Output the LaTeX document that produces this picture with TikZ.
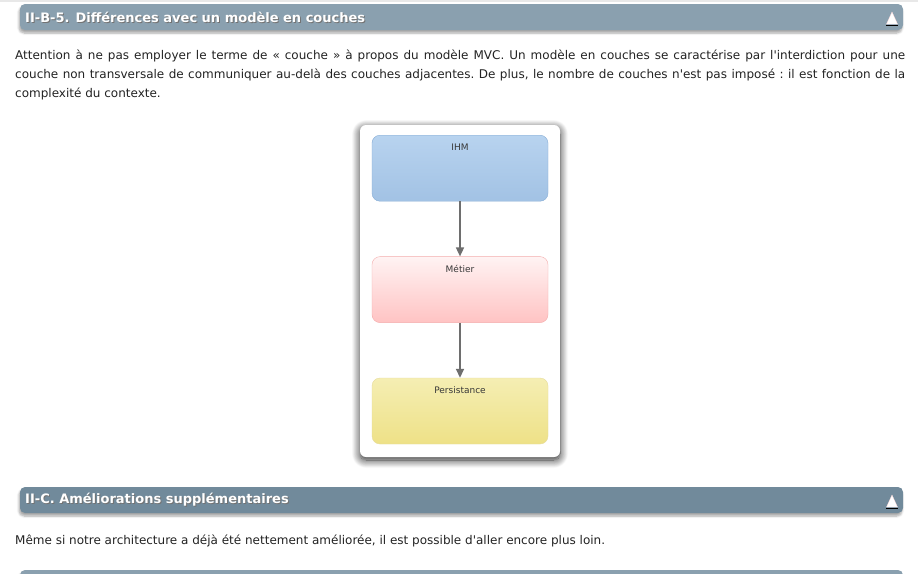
\documentclass[tikz,border=0pt]{standalone}
\usepackage{fontspec}
\setmainfont{DejaVu Sans}
\usetikzlibrary{positioning,shadows.blur,arrows.meta}
\definecolor{barhaut}{HTML}{8AA0AF}
\definecolor{barbas}{HTML}{718A9B}
\definecolor{ihmhaut}{HTML}{B8D3EF}
\definecolor{ihmbas}{HTML}{A2C2E4}
\definecolor{ihmbord}{HTML}{86ACD5}
\definecolor{methaut}{HTML}{FFF3F3}
\definecolor{metbas}{HTML}{FFC3C3}
\definecolor{metbord}{HTML}{F4ACAC}
\definecolor{perhaut}{HTML}{F5EEB3}
\definecolor{perbas}{HTML}{EEE187}
\definecolor{perbord}{HTML}{E6DC9C}
\definecolor{fleche}{HTML}{6E6E6E}
\definecolor{texte}{HTML}{222222}
\newcommand{\titrefont}{\fontsize{13}{15}\selectfont\bfseries}
\newcommand{\corpsfont}{\fontsize{12}{19}\selectfont\frenchspacing}
\newcommand{\boitefont}{\fontsize{9}{10}\selectfont}
\begin{document}
\begin{tikzpicture}[x=1pt,y=-1pt,
    bandeau/.style={fill=#1, rounded corners=5pt,
      blur shadow={shadow xshift=-1pt, shadow yshift=-3pt, shadow blur steps=6, shadow opacity=35}},
    couche/.style={draw=#1bord, top color=#1haut, bottom color=#1bas, rounded corners=8pt,
      minimum width=176pt, minimum height=66pt, inner sep=0pt},
    etiquette/.style={anchor=north, yshift=-5.5pt, font=\boitefont, text=black!78},
    lien/.style={draw=fleche, line width=1.6pt, -{Triangle[length=9pt,width=8pt]}},
    titre/.style={anchor=west, font=\titrefont, text=white, inner sep=0pt},
    ombretitre/.style={titre, text=black!55, xshift=1pt, yshift=-1pt},
    icone/.style={fill=white, draw=white!85!red, line width=0.3pt}]
\useasboundingbox (0,0) rectangle (918,573);
\fill[black!9] (0,0) rectangle (918,2);

\path[bandeau=barhaut] (20,4) rectangle (903,30);
\node[ombretitre] at (25,17) {II-B-5. Différences avec un modèle en couches};
\node[titre] (titreA) at (25,17) {II-B-5. Différences avec un modèle en couches};
\path[icone] (886.5,24) -- (897.5,24) -- (892,12) -- cycle;
\draw[black, line width=1pt] (886,25.5) -- (898,25.5);

\node[anchor=north west, inner sep=0pt, text width=890pt, align=justify, font=\corpsfont, text=texte] (intro) at (15,50)
  {Attention à ne pas employer le terme de «~couche~» à propos du modèle MVC. Un modèle en couches se caractérise par l\textquotesingle interdiction pour une\linebreak
   couche non transversale de communiquer au-delà des couches adjacentes. De plus, le nombre de couches n\textquotesingle est pas imposé~: il est fonction de la\linebreak
   complexité du contexte.};

\fill[white, rounded corners=6pt,
  blur shadow={shadow xshift=0pt, shadow yshift=-3pt, shadow blur radius=8pt, shadow blur steps=12, shadow opacity=85}]
  (360,125) rectangle (560,457);

\node[couche=ihm, anchor=north, label={[etiquette]north:IHM}] (ihm) at (460,135) {};
\node[couche=met, below=55pt of ihm, label={[etiquette]north:Métier}] (metier) {};
\node[couche=per, below=55pt of metier, label={[etiquette]north:Persistance}] (persist) {};
\draw[lien] (ihm) -- (metier);
\draw[lien] (metier) -- (persist);

\path[bandeau=barbas] (20,487) rectangle (903,513);
\node[ombretitre] at (25,500) {II-C. Améliorations supplémentaires};
\node[titre] (titreB) at (25,500) {II-C. Améliorations supplémentaires};
\path[icone] (886.5,507) -- (897.5,507) -- (892,495) -- cycle;
\draw[black, line width=1pt] (886,508.5) -- (898,508.5);

\node[anchor=west, inner sep=0pt, font=\corpsfont, text=texte] (suite) at (15,541)
  {Même si notre architecture a déjà été nettement améliorée, il est possible d\textquotesingle aller encore plus loin.};

\path[bandeau=barhaut] (20,570) rectangle (903,600);
\end{tikzpicture}
\end{document}
